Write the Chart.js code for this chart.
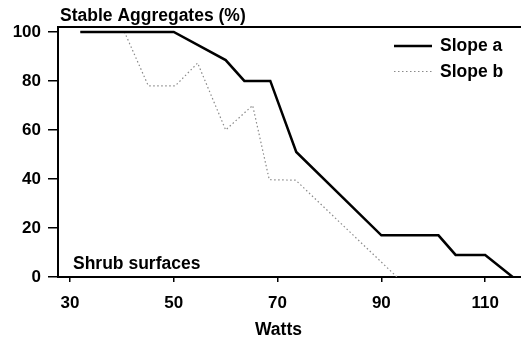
<!DOCTYPE html>
<html>
<head>
    <title>Stable Aggregates - Shrub surfaces</title>
    <script src="https://cdn.jsdelivr.net/npm/chart.js@4.4.1/dist/chart.umd.min.js"></script>
    <style>
        body { margin: 0; background: #fff; }
    </style>
</head>
<body>
    <canvas id="aggChart" width="521" height="340"></canvas>

    <script>
        // Values
        const xTicks = [30, 50, 70, 90, 110];
        const yTicks = [0, 20, 40, 60, 80, 100];

        const wattsA = [32, 50, 60, 63.6, 68.6, 73.6, 90, 101, 104.3, 110, 115.3];
        const slopeA = [100, 100, 88.5, 80, 80, 51, 17, 17, 9, 9, 0];

        const wattsB = [32, 40.5, 45.1, 50.3, 54.6, 60, 65.2, 68.4, 73.5, 93];
        const slopeB = [100, 100, 78, 78, 87.3, 60, 70, 39.7, 39.5, 0];

        const seriesNames = ['Slope a', 'Slope b'];

        const FONT = 'Arial, "Liberation Sans", sans-serif';
        const toPoints = (xs, ys) => xs.map((x, i) => ({ x: x, y: ys[i] }));

        // top frame line, free text and the legend
        const decorations = {
            id: 'decorations',
            afterDraw(chart) {
                const ctx = chart.ctx;
                const area = chart.chartArea;
                ctx.save();
                ctx.strokeStyle = '#000';
                ctx.lineWidth = 2;
                ctx.beginPath();
                ctx.moveTo(area.left, area.top);
                ctx.lineTo(area.right, area.top);
                ctx.stroke();

                ctx.fillStyle = '#000';
                ctx.font = 'bold 17.5px ' + FONT;
                ctx.textBaseline = 'alphabetic';
                ctx.fillText('Stable Aggregates (%)', 60, 21);
                ctx.fillText('Shrub surfaces', 73, 269);
                ctx.fillText('Watts', 255, 335);

                chart.data.datasets.forEach((ds, i) => {
                    const y = 46 + i * 25.5;
                    ctx.strokeStyle = ds.borderColor;
                    ctx.lineWidth = ds.borderWidth;
                    ctx.setLineDash(ds.borderDash || []);
                    ctx.beginPath();
                    ctx.moveTo(394, y);
                    ctx.lineTo(432, y);
                    ctx.stroke();
                    ctx.setLineDash([]);
                    ctx.fillText(ds.label, 440, y + 5);
                });
                ctx.restore();
            }
        };

        const aggChart = new Chart(document.getElementById('aggChart'), {
            type: 'line',
            data: {
                datasets: [{
                    label: seriesNames[0],
                    data: toPoints(wattsA, slopeA),
                    borderColor: '#000',
                    borderWidth: 2.5,
                    pointRadius: 0,
                    tension: 0
                }, {
                    label: seriesNames[1],
                    data: toPoints(wattsB, slopeB),
                    borderColor: '#8a8a8a',
                    borderWidth: 1.2,
                    borderDash: [1.5, 2.5],
                    pointRadius: 0,
                    tension: 0
                }]
            },
            options: {
                responsive: false,
                animation: false,
                layout: { padding: { top: 27, right: 0, bottom: 0, left: 0 } },
                plugins: {
                    legend: { display: false },
                    tooltip: { enabled: false }
                },
                scales: {
                    x: {
                        type: 'linear',
                        min: 27.7,
                        max: 116.9,
                        afterBuildTicks: s => { s.ticks = xTicks.map(v => ({ value: v })); },
                        afterFit: s => { s.height = 63; },
                        ticks: { color: '#000', font: { size: 17, weight: 'bold', family: FONT }, padding: 11, maxRotation: 0, autoSkip: false },
                        grid: { drawOnChartArea: false, tickLength: 5, color: '#000', lineWidth: 1.5 },
                        border: { color: '#000', width: 2 }
                    },
                    y: {
                        min: 0,
                        max: 102,
                        afterBuildTicks: s => { s.ticks = yTicks.map(v => ({ value: v })); },
                        afterFit: s => { s.width = 58; },
                        ticks: { color: '#000', font: { size: 17, weight: 'bold', family: FONT }, padding: 7 },
                        grid: { drawOnChartArea: false, tickLength: 10, color: '#000', lineWidth: 1.5 },
                        border: { color: '#000', width: 2 }
                    }
                }
            },
            plugins: [decorations]
        });
    </script>
</body>
</html>
